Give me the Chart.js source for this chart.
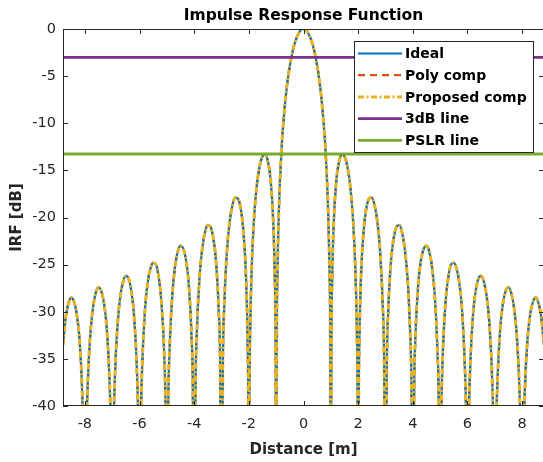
<!DOCTYPE html>
<html>
<head>
<meta charset="utf-8">
<script src="https://cdn.jsdelivr.net/npm/chart.js@4.4.1/dist/chart.umd.min.js"></script>
<style>
  html, body { margin: 0; padding: 0; background: #fff; overflow: hidden; }
  #wrap { width: 546px; height: 462px; }
</style>
</head>
<body>
<div id="wrap"><canvas id="irf-chart"></canvas></div>
<script>
// distance samples [m], one row per lobe
const distance = [
  -8.8, -8.7, -8.6, -8.5, -8.4, -8.3, -8.2, -8.1, -8.05, -8.0,
  -7.95, -7.9, -7.8, -7.7, -7.6, -7.5, -7.4, -7.3, -7.2, -7.1, -7.05, -7.0,
  -6.95, -6.9, -6.8, -6.7, -6.6, -6.5, -6.4, -6.3, -6.2, -6.1, -6.05, -6.0,
  -5.95, -5.9, -5.8, -5.7, -5.6, -5.5, -5.4, -5.3, -5.2, -5.1, -5.05, -5.0,
  -4.95, -4.9, -4.8, -4.7, -4.6, -4.5, -4.4, -4.3, -4.2, -4.1, -4.05, -4.0,
  -3.95, -3.9, -3.8, -3.7, -3.6, -3.5, -3.4, -3.3, -3.2, -3.1, -3.05, -3.0,
  -2.95, -2.9, -2.8, -2.7, -2.6, -2.5, -2.4, -2.3, -2.2, -2.1, -2.05, -2.02, -2.0,
  -1.98, -1.95, -1.9, -1.8, -1.7, -1.6, -1.5, -1.4, -1.3, -1.2, -1.1, -1.05, -1.02, -1.0,
  -0.98, -0.95, -0.9, -0.8, -0.7, -0.6, -0.5, -0.4, -0.3, -0.2, -0.1, 0,
  0.1, 0.2, 0.3, 0.4, 0.5, 0.6, 0.7, 0.8, 0.9, 0.95, 0.98,
  1.0, 1.02, 1.05, 1.1, 1.2, 1.3, 1.4, 1.5, 1.6, 1.7, 1.8, 1.9, 1.95, 1.98,
  2.0, 2.02, 2.05, 2.1, 2.2, 2.3, 2.4, 2.5, 2.6, 2.7, 2.8, 2.9, 2.95,
  3.0, 3.05, 3.1, 3.2, 3.3, 3.4, 3.5, 3.6, 3.7, 3.8, 3.9, 3.95,
  4.0, 4.05, 4.1, 4.2, 4.3, 4.4, 4.5, 4.6, 4.7, 4.8, 4.9, 4.95,
  5.0, 5.05, 5.1, 5.2, 5.3, 5.4, 5.5, 5.6, 5.7, 5.8, 5.9, 5.95,
  6.0, 6.05, 6.1, 6.2, 6.3, 6.4, 6.5, 6.6, 6.7, 6.8, 6.9, 6.95,
  7.0, 7.05, 7.1, 7.2, 7.3, 7.4, 7.5, 7.6, 7.7, 7.8, 7.9, 7.95,
  8.0, 8.05, 8.1, 8.2, 8.3, 8.4, 8.5, 8.6, 8.7, 8.8
];

// IRF [dB]; the nulls drop well below the axis (-60)
const idealDb = [
  -33.5, -30.6, -29.1, -28.5, -28.9, -30.2, -32.8, -38.3, -44.2, -60,
  -44.1, -38.1, -32.4, -29.5, -28.0, -27.4, -27.8, -29.1, -31.7, -37.2, -43.0, -60,
  -42.9, -36.9, -31.2, -28.3, -26.8, -26.2, -26.5, -27.8, -30.4, -35.9, -41.7, -60,
  -41.5, -35.6, -29.8, -26.9, -25.4, -24.8, -25.0, -26.3, -28.9, -34.3, -40.1, -60,
  -39.9, -34.0, -28.2, -25.2, -23.6, -23.0, -23.3, -24.5, -27.0, -32.4, -38.2, -60,
  -38.0, -32.0, -26.2, -23.2, -21.5, -20.8, -21.0, -22.2, -24.7, -30.0, -35.7, -60,
  -35.4, -29.4, -23.5, -20.4, -18.7, -17.9, -18.0, -19.0, -21.4, -26.6, -32.3, -40.1, -60,
  -39.9, -31.9, -25.7, -19.7, -16.4, -14.5, -13.5, -13.3, -14.1, -16.1, -21.0, -26.5, -34.2, -60,
  -33.8, -25.6, -19.2, -12.6, -8.7, -5.9, -3.9, -2.4, -1.3, -0.6, -0.1, 0,
  -0.1, -0.6, -1.3, -2.4, -3.9, -5.9, -8.7, -12.6, -19.2, -25.6, -33.8,
  -60, -34.2, -26.5, -21.0, -16.1, -14.1, -13.3, -13.5, -14.5, -16.4, -19.7, -25.7, -31.9, -39.9,
  -60, -40.1, -32.3, -26.6, -21.4, -19.0, -18.0, -17.9, -18.7, -20.4, -23.5, -29.4, -35.4,
  -60, -35.7, -30.0, -24.7, -22.2, -21.0, -20.8, -21.5, -23.2, -26.2, -32.0, -38.0,
  -60, -38.2, -32.4, -27.0, -24.5, -23.3, -23.0, -23.6, -25.2, -28.2, -34.0, -39.9,
  -60, -40.1, -34.3, -28.9, -26.3, -25.0, -24.8, -25.4, -26.9, -29.8, -35.6, -41.5,
  -60, -41.7, -35.9, -30.4, -27.8, -26.5, -26.2, -26.8, -28.3, -31.2, -36.9, -42.9,
  -60, -43.0, -37.2, -31.7, -29.1, -27.8, -27.4, -28.0, -29.5, -32.4, -38.1, -44.1,
  -60, -44.2, -38.3, -32.8, -30.2, -28.9, -28.5, -29.1, -30.6, -33.5
];

// both compensations land on the ideal response
const polyCompDb = idealDb;
const proposedCompDb = idealDb;

// reference levels
const lineSpan = [-8.8, 8.8];
const threeDbLine = [-3, -3];
const pslrLine = [-13.26, -13.26];

const xTickValues = [-8, -6, -4, -2, 0, 2, 4, 6, 8];
const yTickValues = [-40, -35, -30, -25, -20, -15, -10, -5, 0];

const AXIS_COLOR = "#262626";
const FONT = "DejaVu Sans";

function toPoints(xs, ys) {
  return xs.map((x, i) => ({ x: x, y: ys[i] }));
}

// MATLAB style box, inward ticks and legend
const matlabAxes = {
  id: "matlabAxes",
  afterDraw(chart) {
    const ctx = chart.ctx;
    const a = chart.chartArea;
    const xs = chart.scales.x;
    const ys = chart.scales.y;

    ctx.save();
    ctx.strokeStyle = AXIS_COLOR;
    ctx.lineWidth = 1;
    ctx.setLineDash([]);
    ctx.strokeRect(a.left + 0.5, a.top + 0.5, a.right - a.left - 1, a.bottom - a.top - 1);

    ctx.beginPath();
    xs.ticks.forEach(t => {
      const px = Math.round(xs.getPixelForValue(t.value)) + 0.5;
      ctx.moveTo(px, a.bottom);
      ctx.lineTo(px, a.bottom - 5);
      ctx.moveTo(px, a.top);
      ctx.lineTo(px, a.top + 5);
    });
    ys.ticks.forEach(t => {
      const py = Math.round(ys.getPixelForValue(t.value)) + 0.5;
      ctx.moveTo(a.left, py);
      ctx.lineTo(a.left + 5, py);
      ctx.moveTo(a.right, py);
      ctx.lineTo(a.right - 5, py);
    });
    ctx.stroke();

    // legend, in the order the lines were added
    const lw = 179, lh = 111;
    const lx = a.right - 11 - lw;
    const ly = a.top + 12;
    ctx.fillStyle = "#fff";
    ctx.fillRect(lx, ly, lw, lh);
    ctx.strokeRect(lx + 0.5, ly + 0.5, lw, lh);

    ctx.font = "bold 14px " + FONT;
    ctx.textBaseline = "middle";
    ctx.textAlign = "left";
    chart.data.datasets.forEach((ds, i) => {
      const cy = ly + 12.5 + i * 21.7;
      ctx.beginPath();
      ctx.strokeStyle = ds.borderColor;
      ctx.lineWidth = ds.borderWidth;
      ctx.setLineDash(ds.borderDash || []);
      ctx.moveTo(lx + 4, cy);
      ctx.lineTo(lx + 48, cy);
      ctx.stroke();
      ctx.fillStyle = "#000";
      ctx.fillText(ds.label, lx + 51, cy + 1);
    });
    ctx.restore();
  }
};

Chart.defaults.font.family = FONT;

new Chart(document.getElementById("irf-chart"), {
  type: "line",
  data: {
    datasets: [
      {
        label: "Ideal",
        data: toPoints(distance, idealDb),
        borderColor: "#0072BD",
        borderWidth: 2.2,
        order: 4
      },
      {
        label: "Poly comp",
        data: toPoints(distance, polyCompDb),
        borderColor: "#D95319",
        borderWidth: 2.2,
        borderDash: [7, 5],
        order: 5
      },
      {
        label: "Proposed comp",
        data: toPoints(distance, proposedCompDb),
        borderColor: "#EDB120",
        borderWidth: 3,
        borderDash: [6, 2.5, 2, 2.5],
        order: 3
      },
      {
        label: "3dB line",
        data: toPoints(lineSpan, threeDbLine),
        borderColor: "#7E2F8E",
        borderWidth: 2.8,
        order: 2
      },
      {
        label: "PSLR line",
        data: toPoints(lineSpan, pslrLine),
        borderColor: "#77AC30",
        borderWidth: 2.8,
        order: 1
      }
    ]
  },
  options: {
    responsive: true,
    maintainAspectRatio: false,
    animation: false,
    elements: {
      point: { radius: 0, hoverRadius: 0 },
      line: { cubicInterpolationMode: "monotone", fill: false }
    },
    layout: {
      padding: { top: 1, right: 2, left: 0, bottom: 0 }
    },
    scales: {
      x: {
        type: "linear",
        min: -8.8,
        max: 8.8,
        afterBuildTicks: scale => {
          scale.ticks = xTickValues.map(v => ({ value: v }));
        },
        afterFit: scale => {
          scale.height = 56;
        },
        grid: { display: false, drawTicks: false },
        border: { display: false },
        ticks: {
          color: AXIS_COLOR,
          font: { size: 14.5 },
          padding: 10,
          maxRotation: 0,
          callback: v => String(v)
        },
        title: {
          display: true,
          text: "Distance [m]",
          color: AXIS_COLOR,
          font: { size: 15, weight: "bold" },
          padding: { top: 0, bottom: 3 }
        }
      },
      y: {
        type: "linear",
        min: -40,
        max: 0,
        afterBuildTicks: scale => {
          scale.ticks = yTickValues.map(v => ({ value: v }));
        },
        afterFit: scale => {
          scale.width = 63;
        },
        grid: { display: false, drawTicks: false },
        border: { display: false },
        ticks: {
          color: AXIS_COLOR,
          font: { size: 14.5 },
          padding: 7,
          callback: v => String(v)
        },
        title: {
          display: true,
          text: "IRF [dB]",
          color: AXIS_COLOR,
          font: { size: 15, weight: "bold" },
          padding: { top: 8, bottom: 0 }
        }
      }
    },
    plugins: {
      legend: { display: false },
      tooltip: { enabled: false },
      title: {
        display: true,
        fullSize: false,
        text: "Impulse Response Function",
        color: "#000",
        font: { size: 15.5, weight: "bold" },
        padding: { top: 6, bottom: 3.4 }
      }
    }
  },
  plugins: [matlabAxes]
});
</script>
</body>
</html>
